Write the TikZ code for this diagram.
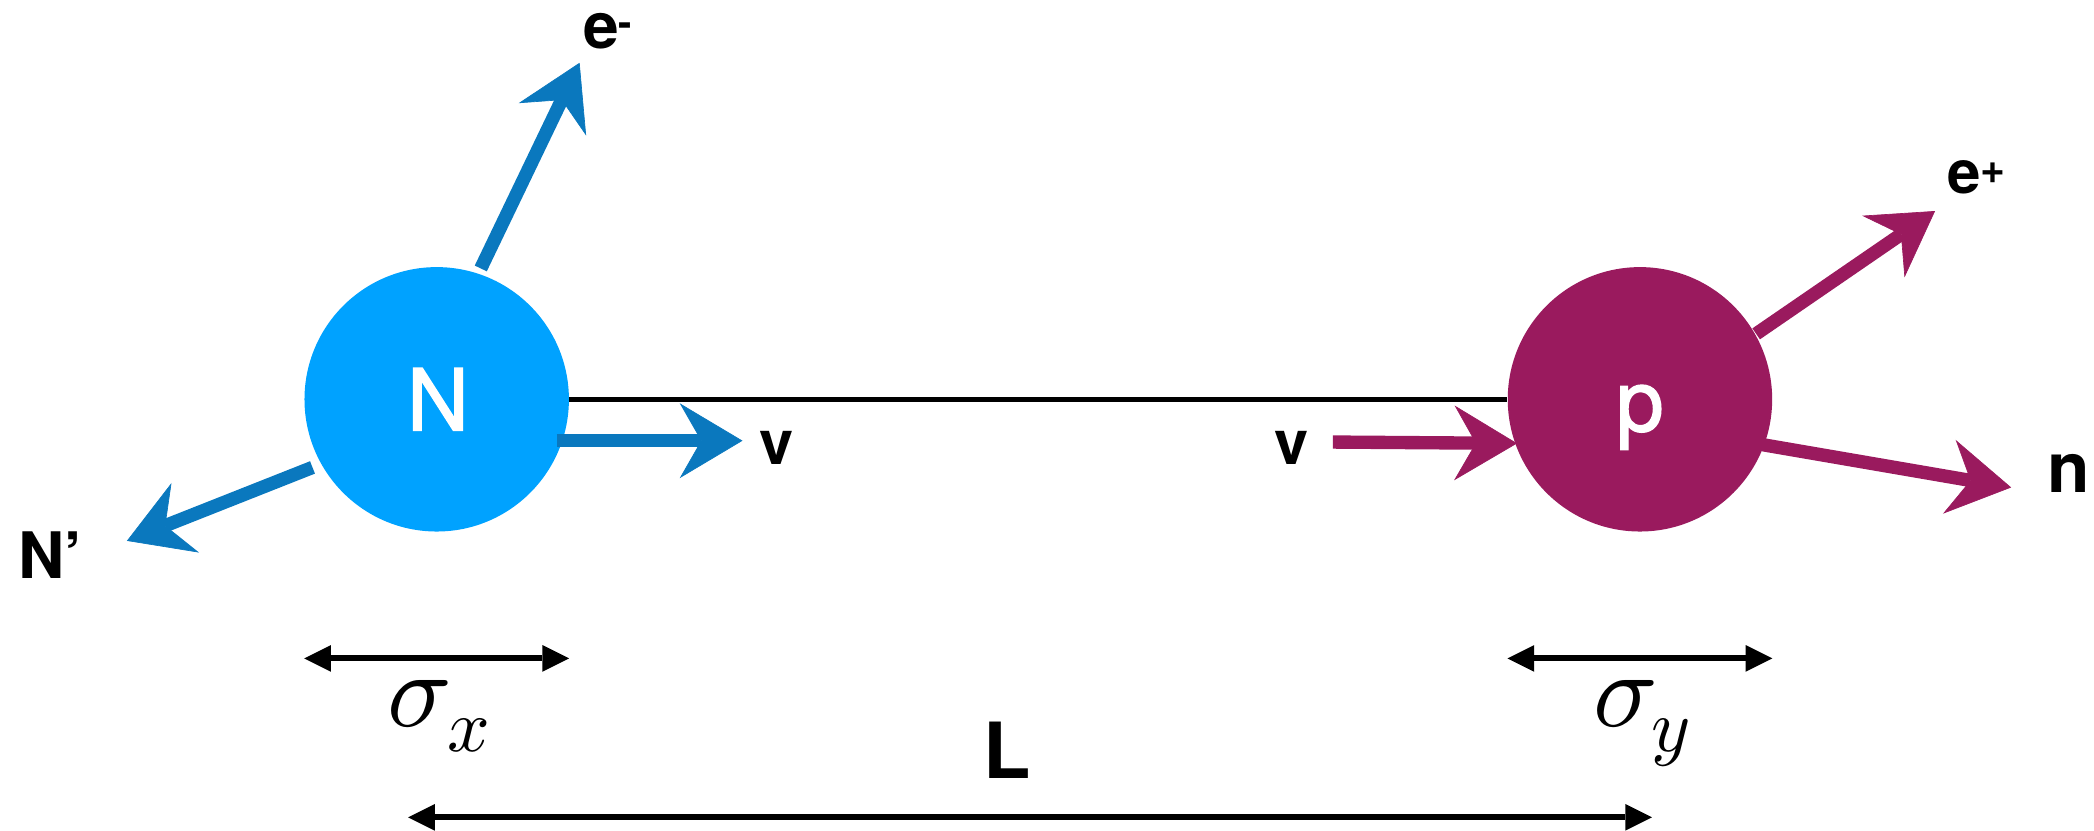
\documentclass[tikz,border=0pt]{standalone}
\usepackage{fontspec}
\setmainfont{TeX Gyre Heros}
\newfontfamily\circfont{TeX Gyre Heros}[FakeBold=1.6]
\usetikzlibrary{arrows.meta}

\definecolor{nucblue}{HTML}{00A2FF}
\definecolor{trkblue}{HTML}{0A78BE}
\definecolor{protmag}{HTML}{9A1A5E}

\tikzset{
  particle/.style={circle, inner sep=0pt, minimum size=198pt},
  inner/.style={inner sep=0pt, text=white, font=\circfont\fontsize{64}{64}\selectfont},
  track/.style={line width=10pt,
    -{Stealth[length=47pt, width=56pt, inset=16pt, line width=0.5pt]}},
  dimline/.style={line width=4.5pt,
    {Triangle[length=20pt, width=20pt, line width=0pt]}-{Triangle[length=20pt, width=20pt, line width=0pt]}},
  lbl/.style={inner sep=0pt, font=\bfseries\fontsize{#1}{#1}\selectfont},
  lbl/.default=46,
  sig/.style={inner sep=0pt, font=\fontsize{10}{12}\selectfont},
}

\begin{document}
\begin{tikzpicture}[x=1pt, y=-1pt]
\useasboundingbox (0,0) rectangle (1568,622);

% the two particles
\node[particle, fill=nucblue] (N) at (327,299) {};
\node[particle, fill=protmag] (P) at (1228,299) {};
\node[inner] (Ntxt) at (328,299) {N};
\node[inner] (ptxt) at (1228,312.5) {p};

% baseline between them
\draw[line width=4pt] (N.east) -- (P.west);

% track end points
\coordinate (vbS) at (417,330);  \coordinate (vbT) at (556,330);
\coordinate (emS) at (360,201);  \coordinate (emT) at (434,47);
\coordinate (NpS) at (234,350);  \coordinate (NpT) at (95,405);
\coordinate (vmS) at (998,331);  \coordinate (vmT) at (1136,332);
\coordinate (epS) at (1315,250); \coordinate (epT) at (1449,158);
\coordinate (nS)  at (1320,333); \coordinate (nT)  at (1506,365);

\draw[track, trkblue] (vbS) -- (vbT);
\draw[track, trkblue] (emS) -- (emT);
\draw[track, trkblue] (NpS) -- (NpT);
\draw[track, protmag] (vmS) -- (vmT);
\draw[track, protmag] (epS) -- (epT);
\draw[track, protmag] (nS) -- (nT);

% particle labels
\node[lbl, anchor=base] (vb) at (581.5,348) {v};
\node[lbl, anchor=base] (vm) at (967,348) {v};
\node[lbl=52, anchor=base] (nn) at (1549,369) {n};
\node[lbl=48, anchor=base] (Np) at (38,433) {N’};
\node[lbl=48, anchor=base west] (em) at (436.5,36) {e\raisebox{9pt}{\fontsize{30}{30}\selectfont -}};
\node[lbl=45, anchor=base west] (ep) at (1458,145) {e\raisebox{7.5pt}{\fontsize{32}{32}\selectfont +}};

% widths and distance
\coordinate (dimrow) at (0,493);
\coordinate (Lleft) at (305.6,612);
\coordinate (Lright) at (1237,612);
\draw[dimline] (N.west |- dimrow) -- (N.east |- dimrow);
\draw[dimline] (P.west |- dimrow) -- (P.east |- dimrow);
\draw[dimline] (Lleft) -- (Lright);

\node[sig, anchor=base west] (sx) at (290,544) {\scalebox{8}{$\sigma$}\kern-4pt\raisebox{-19pt}{\scalebox{5.6}{$x$}}};
\node[sig, anchor=base west] (sy) at (1193,544) {\scalebox{8}{$\sigma$}\kern-5pt\raisebox{-19pt}{\scalebox{5.6}{$y$}}};
\node[lbl=58, anchor=base] (L) at (754,583) {L};
\end{tikzpicture}
\end{document}
